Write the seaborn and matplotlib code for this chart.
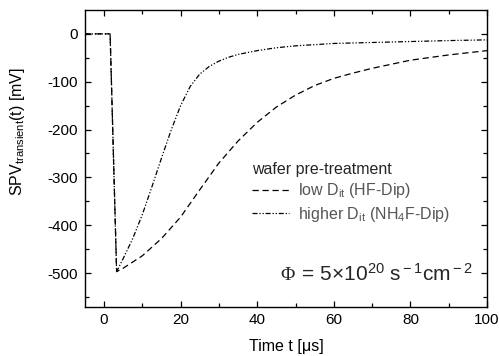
import pandas as pd
import matplotlib
matplotlib.use("Agg")
import matplotlib.pyplot as plt
import seaborn as sns

# values
t_low = [-5, 1.6, 3.3, 5, 10, 15, 20, 25, 30, 35, 40, 45, 50, 55, 60, 65, 70, 80, 90, 100]
spv_low = [0, 0, -497, -490, -464, -428, -383, -326, -270, -224, -185, -153, -128, -108, -93, -82, -72, -55, -44, -35]

t_high = [-5, 1.6, 3.3, 5, 7.5, 10, 12.5, 15, 17.5, 20, 22.5, 25, 27.5, 30, 32.5, 35, 40, 45, 50, 60, 70, 80, 90, 100]
spv_high = [0, 0, -497, -470, -428, -378, -320, -260, -202, -150, -110, -84, -68, -57, -49, -43, -35, -29, -25, -20, -18, -16, -14, -12.5]

lbl_low = r"low D$_{\rm it}$ (HF-Dip)"
lbl_high = r"higher D$_{\rm it}$ (NH$_4$F-Dip)"

df = pd.concat([
    pd.DataFrame({"t": t_low, "spv": spv_low, "treatment": lbl_low}),
    pd.DataFrame({"t": t_high, "spv": spv_high, "treatment": lbl_high}),
])

sns.set_theme(style="ticks")
plt.rcParams["font.family"] = ["Liberation Sans", "DejaVu Sans"]
plt.rcParams["mathtext.fontset"] = "custom"
plt.rcParams["mathtext.rm"] = "Liberation Sans"
plt.rcParams["mathtext.it"] = "Liberation Sans:italic"
plt.rcParams["axes.unicode_minus"] = False

fig = plt.figure(figsize=(4.99, 3.56), dpi=100)
ax = fig.add_axes([0.170, 0.139, 0.806, 0.833])

sns.lineplot(data=df, x="t", y="spv", style="treatment", color="black",
             dashes={lbl_low: (5, 3), lbl_high: (4, 1.5, 1, 1.5, 1, 1.5)},
             sort=False, estimator=None, linewidth=0.9, legend=False, ax=ax)

ax.set_xlim(-5, 100)
ax.set_ylim(-570, 50)
ax.set_xticks([0, 20, 40, 60, 80, 100])
ax.set_xticks([10, 30, 50, 70, 90], minor=True)
ax.set_yticks([0, -100, -200, -300, -400, -500])
ax.set_yticks([-50, -150, -250, -350, -450, -550], minor=True)
ax.tick_params(which="both", direction="in", top=True, right=True,
               labelsize=11, width=0.9, color="black", labelcolor="black")
ax.tick_params(which="major", length=4.5, pad=5)
ax.tick_params(which="minor", length=3)
for s in ax.spines.values():
    s.set_linewidth(1.0)
    s.set_color("black")

ax.set_xlabel("Time t [μs]", fontsize=11.5, color="black", labelpad=8)
ax.set_ylabel(r"SPV$_{\rm transient}$(t) [mV]", fontsize=11.5, color="black")
ax.yaxis.set_label_coords(-0.145, 0.59)

handles = ax.get_lines()[:2]
leg = ax.legend(handles, [lbl_low, lbl_high], title="wafer pre-treatment",
                loc="upper left", bbox_to_anchor=(0.40, 0.51), frameon=False,
                fontsize=11.5, title_fontsize=11.5, handlelength=2.3,
                handletextpad=0.6, labelspacing=0.28, borderaxespad=0,
                alignment="left", labelcolor="#555555")

ax.text(0.522, 0.088, "Φ", transform=ax.transAxes, fontsize=14,
        family="Liberation Serif", ha="right", va="baseline")
ax.text(0.525, 0.088, r" = 5×10$^{20}$ s$^{\rm -1}$cm$^{\rm -2}$", transform=ax.transAxes,
        fontsize=15, ha="left", va="baseline")

fig.savefig("out.png", dpi=100)
